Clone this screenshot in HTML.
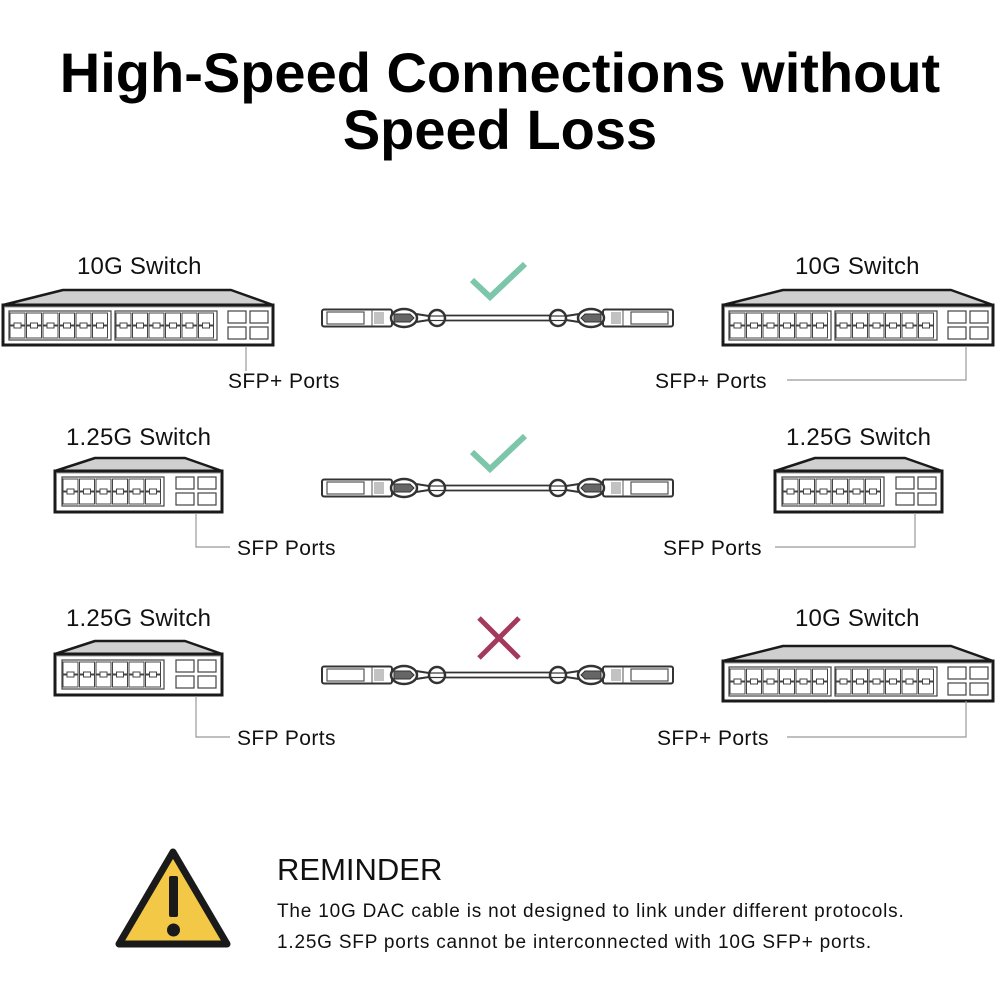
<!DOCTYPE html>
<html><head><meta charset="utf-8"><style>
html,body{margin:0;padding:0;background:#fff;}
svg{display:block;font-family:"Liberation Sans",Arial,sans-serif;}
</style></head><body>
<svg width="1000" height="1000" viewBox="0 0 1000 1000" xmlns="http://www.w3.org/2000/svg">
<defs>
  <g id="p">
    <path d="M0,0 h15 v12 h-4 v-2 h-7 v2 h-4 z" fill="none" stroke="#444" stroke-width="1"/>
  </g>
  <g id="row6">
    <use href="#p" x="1"/><use href="#p" x="17.5"/><use href="#p" x="34"/>
    <use href="#p" x="50.5"/><use href="#p" x="67"/><use href="#p" x="83.5"/>
  </g>
  <g id="blk">
    <rect x="0" y="0" width="102" height="29" fill="none" stroke="#444" stroke-width="1.2"/>
    <use href="#row6" x="0" y="2"/>
    <g transform="translate(0,27) scale(1,-1)"><use href="#row6" x="0" y="0"/></g>
  </g>
  <g id="sfp4">
    <rect x="0" y="0" width="18" height="12" fill="#fff" stroke="#444" stroke-width="1.2"/>
    <rect x="22" y="0" width="18" height="12" fill="#fff" stroke="#444" stroke-width="1.2"/>
    <rect x="0" y="16" width="18" height="12" fill="#fff" stroke="#444" stroke-width="1.2"/>
    <rect x="22" y="16" width="18" height="12" fill="#fff" stroke="#444" stroke-width="1.2"/>
  </g>
  <g id="big">
    <polygon points="60,0 228,0 270,15 0,15" fill="#cfcfcf" stroke="#1a1a1a" stroke-width="2.5" stroke-linejoin="round"/>
    <rect x="0" y="15" width="270" height="40" fill="#fff" stroke="#1a1a1a" stroke-width="3"/>
    <line x1="2" y1="17" x2="268" y2="17" stroke="#999" stroke-width="1"/>
    <use href="#blk" x="6" y="21"/>
    <use href="#blk" x="112" y="21"/>
    <use href="#sfp4" x="225" y="21"/>
  </g>
  <g id="small">
    <polygon points="40,0 130,0 167,13 0,13" fill="#cfcfcf" stroke="#1a1a1a" stroke-width="2.5" stroke-linejoin="round"/>
    <rect x="0" y="13" width="167" height="41" fill="#fff" stroke="#1a1a1a" stroke-width="3"/>
    <line x1="2" y1="15" x2="165" y2="15" stroke="#999" stroke-width="1"/>
    <use href="#blk" x="7" y="19"/>
    <use href="#sfp4" x="121" y="19"/>
  </g>
  <g id="half">
    <rect x="0" y="-8.5" width="70" height="17" rx="2" fill="#fff" stroke="#333" stroke-width="2"/>
    <rect x="5" y="-6" width="37" height="12" fill="#fff" stroke="#555" stroke-width="1.2"/>
    <line x1="50" y1="-8" x2="50" y2="8" stroke="#555" stroke-width="1"/>
    <path d="M53,-6 v12 M55,-6 v12 M57,-6 v12 M59,-6 v12 M61,-6 v12" stroke="#666" stroke-width="0.8"/>
    <ellipse cx="82" cy="0" rx="13" ry="9" fill="#fff" stroke="#333" stroke-width="2.5"/>
    <path d="M72,-4 h16 l4,4 l-4,4 h-16 z" fill="#666" stroke="#333" stroke-width="1"/>
    <path d="M94,-4 L107,-2 M94,4 L107,2" stroke="#333" stroke-width="2"/>
    <circle cx="115" cy="0" r="8" fill="#fff" stroke="#333" stroke-width="2.5"/>
    <line x1="107" y1="-2" x2="123" y2="-2" stroke="#333" stroke-width="1.2"/>
    <line x1="107" y1="2.5" x2="123" y2="2.5" stroke="#333" stroke-width="1.2"/>
  </g>
  <g id="cable">
    <use href="#half"/>
    <g transform="translate(351,0) scale(-1,1)"><use href="#half"/></g>
    <line x1="123" y1="-2.5" x2="228" y2="-2.5" stroke="#333" stroke-width="1.8"/>
    <line x1="123" y1="2.5" x2="228" y2="2.5" stroke="#333" stroke-width="1.8"/>
  </g>
</defs>

<text x="500" y="92" font-size="56" font-weight="bold" text-anchor="middle" fill="#000">High-Speed Connections without</text>
<text x="500" y="149" font-size="56" font-weight="bold" text-anchor="middle" fill="#000">Speed Loss</text>

<g font-size="24" fill="#111" letter-spacing="0.2">
  <text x="77" y="274">10G Switch</text>
  <text x="795" y="274">10G Switch</text>
  <text x="66" y="445">1.25G Switch</text>
  <text x="786" y="445">1.25G Switch</text>
  <text x="66" y="626">1.25G Switch</text>
  <text x="795" y="626">10G Switch</text>
</g>
<g font-size="21" fill="#111" letter-spacing="0.4">
  <text x="228" y="388">SFP+ Ports</text>
  <text x="655" y="388">SFP+ Ports</text>
  <text x="237" y="555">SFP Ports</text>
  <text x="663" y="555">SFP Ports</text>
  <text x="237" y="745">SFP Ports</text>
  <text x="657" y="745">SFP+ Ports</text>
</g>

<!-- row 1 -->
<use href="#big" x="3" y="290"/>
<use href="#big" x="723" y="290"/>
<path d="M246,346 V371" stroke="#999" stroke-width="1.2" fill="none"/>
<path d="M966,346 V380 H787" stroke="#999" stroke-width="1.2" fill="none"/>
<use href="#cable" x="322" y="318"/>
<path d="M472,280 L490,297 L525,264" stroke="#7dc6aa" stroke-width="6" fill="none"/>

<!-- row 2 -->
<use href="#small" x="55" y="458"/>
<use href="#small" x="775" y="458"/>
<path d="M196,513 V547 H230" stroke="#999" stroke-width="1.2" fill="none"/>
<path d="M915,513 V547 H775" stroke="#999" stroke-width="1.2" fill="none"/>
<use href="#cable" x="322" y="488"/>
<path d="M472,452 L490,469 L525,436" stroke="#7dc6aa" stroke-width="6" fill="none"/>

<!-- row 3 -->
<use href="#small" x="55" y="641"/>
<use href="#big" x="723" y="646"/>
<path d="M196,696 V737 H230" stroke="#999" stroke-width="1.2" fill="none"/>
<path d="M966,701 V737 H787" stroke="#999" stroke-width="1.2" fill="none"/>
<use href="#cable" x="322" y="675"/>
<path d="M479,618 L519,658 M519,618 L479,658" stroke="#a3395c" stroke-width="5" fill="none"/>

<!-- warning -->
<path d="M173,852 L119,944 L227,944 Z" fill="#f3c846" stroke="#1a1a1a" stroke-width="7" stroke-linejoin="round"/>
<rect x="169" y="876" width="9" height="41" rx="2" fill="#1a1a1a"/>
<circle cx="173.5" cy="930" r="6.5" fill="#1a1a1a"/>

<text x="277" y="880" font-size="31" fill="#111">REMINDER</text>
<text x="277" y="917" font-size="19" fill="#111" letter-spacing="0.8">The 10G DAC cable is not designed to link under different protocols.</text>
<text x="277" y="948" font-size="19" fill="#111" letter-spacing="0.8">1.25G SFP ports cannot be interconnected with 10G SFP+ ports.</text>
</svg>
</body></html>
